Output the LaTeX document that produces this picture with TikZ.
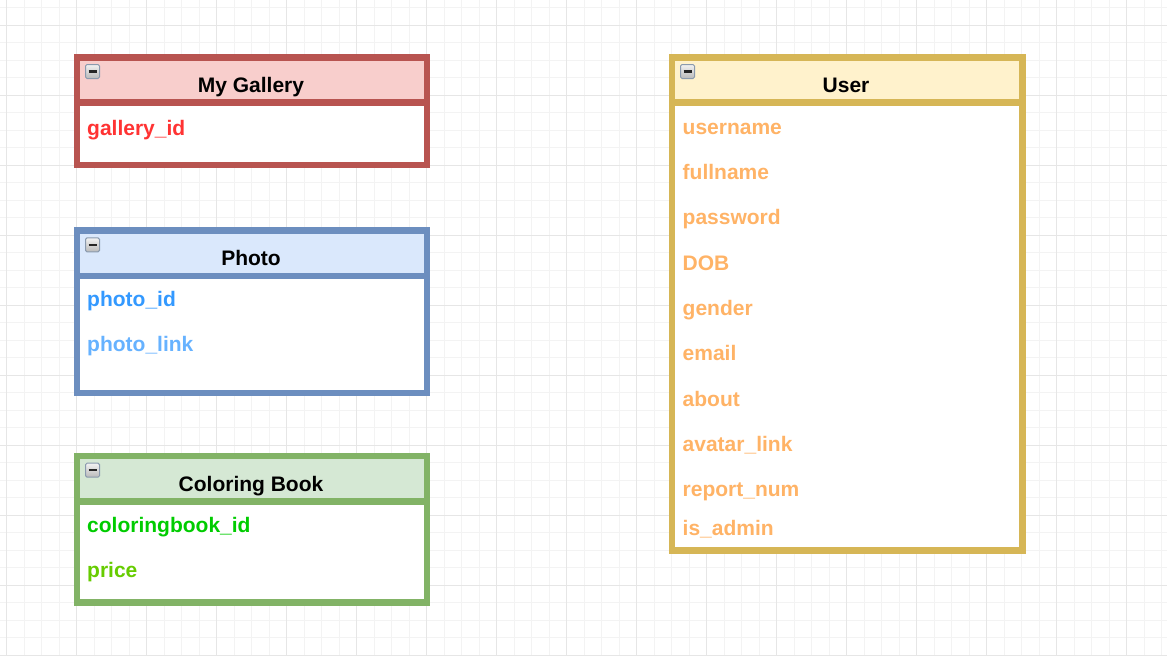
\documentclass[tikz,border=0pt]{standalone}
\usepackage{fontspec}
\setmainfont{Liberation Sans}
\usepackage{tikz}

\definecolor{gridminor}{HTML}{F3F3F3}
\definecolor{gridmajor}{HTML}{E6E6E6}
\definecolor{galleryline}{HTML}{B85450}
\definecolor{galleryhead}{HTML}{F8CECC}
\definecolor{photoline}{HTML}{6C8EBF}
\definecolor{photohead}{HTML}{DAE8FC}
\definecolor{bookline}{HTML}{82B366}
\definecolor{bookhead}{HTML}{D5E8D4}
\definecolor{userline}{HTML}{D6B656}
\definecolor{userhead}{HTML}{FFF2CC}
\definecolor{galleryfield}{HTML}{FF3333}
\definecolor{photofield}{HTML}{3399FF}
\definecolor{linkfield}{HTML}{66B2FF}
\definecolor{bookfield}{HTML}{00CC00}
\definecolor{pricefield}{HTML}{66CC00}
\definecolor{userfield}{HTML}{FFB366}
\definecolor{iconline}{HTML}{8A9AAE}

\tikzset{
	tblframe/.style={line width=6.5pt},
	titletxt/.style={anchor=base,inner sep=0pt,font=\fontsize{21}{24}\selectfont\bfseries},
	fieldtxt/.style={anchor=base west,inner sep=0pt,font=\fontsize{21}{24}\selectfont\bfseries},
	minusbox/.style={draw=iconline,line width=1pt,rounded corners=1.5pt,top color=gray!10,bottom color=gray!55}
}

\begin{document}
\begin{tikzpicture}[x=1pt,y=-1pt]
		\useasboundingbox (0,0) rectangle (1167,656);
		\fill[white] (0,0) rectangle (1167,656);
		% grid
		\foreach \ii in {0,...,67}
		{
			\draw[gridminor,line width=.8pt] ({-10.8+17.5*\ii},0)--++(0,656);
		}
		\foreach \ii in {0,...,37}
		{
			\draw[gridminor,line width=.8pt] (0,{7.5+17.5*\ii})--++(1167,0);
		}
		\foreach \ii in {0,...,16}
		{
			\draw[gridmajor,line width=.8pt] ({6.7+70*\ii},0)--++(0,656);
		}
		\foreach \ii in {0,...,9}
		{
			\draw[gridmajor,line width=.8pt] (0,{25+70*\ii})--++(1167,0);
		}
		% My Gallery
		\fill[white] (77,57.3) rectangle (427,165);
		\fill[galleryhead] (77,57.3) rectangle (427,102.5);
		\draw[tblframe,galleryline] (77,57.3) rectangle (427,165) (77,102.5)--(427,102.5);
		\draw[minusbox] (85.5,64.5) rectangle ++(14,14);
		\draw[black!85,line width=2.2pt] (88.5,71.5)--++(8,0);
		\node[titletxt] (gallery) at (251,92.7) {My Gallery};
		\node[fieldtxt,galleryfield] (galleryid) at (87,135) {gallery\_id};
		% Photo
		\fill[white] (77,230.7) rectangle (427,393);
		\fill[photohead] (77,230.7) rectangle (427,275.8);
		\draw[tblframe,photoline] (77,230.7) rectangle (427,393) (77,275.8)--(427,275.8);
		\draw[minusbox] (85.5,237.9) rectangle ++(14,14);
		\draw[black!85,line width=2.2pt] (88.5,244.9)--++(8,0);
		\node[titletxt] (photo) at (251,265.5) {Photo};
		\node[fieldtxt,photofield] (photoid) at (87,306.7) {photo\_id};
		\node[fieldtxt,linkfield] (photolink) at (87,351.7) {photo\_link};
		% Coloring Book
		\fill[white] (77,456) rectangle (427,602.7);
		\fill[bookhead] (77,456) rectangle (427,501.7);
		\draw[tblframe,bookline] (77,456) rectangle (427,602.7) (77,501.7)--(427,501.7);
		\draw[minusbox] (85.5,463.2) rectangle ++(14,14);
		\draw[black!85,line width=2.2pt] (88.5,470.2)--++(8,0);
		\node[titletxt] (book) at (251,491.3) {Coloring Book};
		\node[fieldtxt,bookfield] (bookid) at (87,532.7) {coloringbook\_id};
		\node[fieldtxt,pricefield] (price) at (87,577.3) {price};
		% User
		\fill[white] (672,57.3) rectangle (1022.7,550.7);
		\fill[userhead] (672,57.3) rectangle (1022.7,102.7);
		\draw[tblframe,userline] (672,57.3) rectangle (1022.7,550.7) (672,102.7)--(1022.7,102.7);
		\draw[minusbox] (680.5,64.5) rectangle ++(14,14);
		\draw[black!85,line width=2.2pt] (683.5,71.5)--++(8,0);
		\node[titletxt] (user) at (846,92.7) {User};
		\foreach \fname/\fy in {username/134,fullname/179.3,password/224.6,DOB/270,gender/315.3,email/360.6,about/406,avatar\_link/451.3,report\_num/496.6,is\_admin/535}
		{
			\node[fieldtxt,userfield] (user-\fy) at (682.5,\fy) {\fname};
		}
	\end{tikzpicture}
\end{document}
